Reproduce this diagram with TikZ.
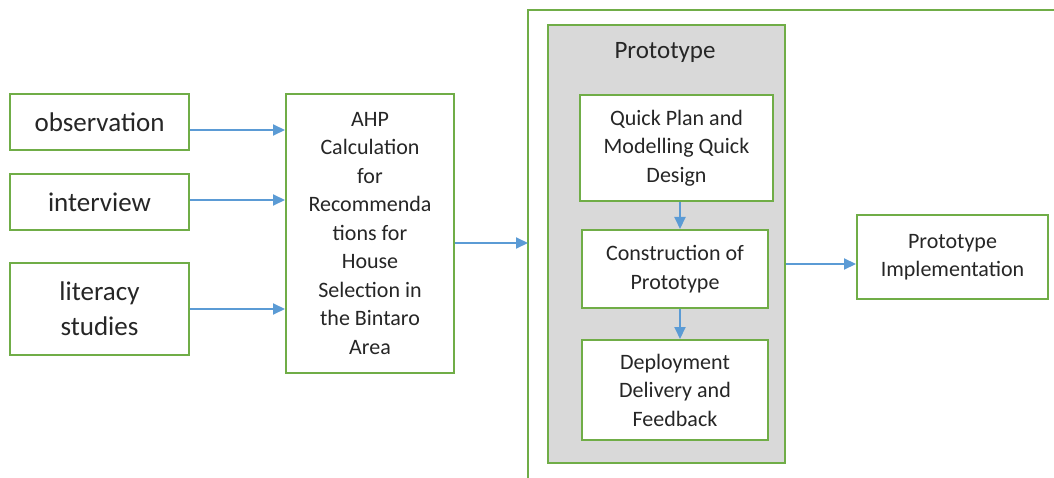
\documentclass[tikz,border=0pt]{standalone}
\usepackage{fontspec}
\setmainfont{Carlito}
\usetikzlibrary{arrows.meta}
\definecolor{boxgreen}{HTML}{70AD47}
\definecolor{flowblue}{HTML}{5B9BD5}
\definecolor{panelgray}{HTML}{D9D9D9}
\definecolor{ink}{HTML}{262626}
\tikzset{
  box/.style={draw=boxgreen, line width=2pt, fill=white, align=center, text=ink,
    inner sep=0pt, font=\fontsize{22}{28.5}\selectfont},
  srcbox/.style={box, font=\fontsize{27}{35}\selectfont},
  panel/.style={draw=boxgreen, line width=2pt, fill=panelgray},
  flow/.style={draw=flowblue, line width=2pt, -{Triangle[length=12pt,width=11pt]}},
  frame/.style={draw=boxgreen, line width=2pt}
}
\begin{document}
\begin{tikzpicture}[x=1pt,y=-1pt]
\useasboundingbox (0,0) rectangle (1054,478);

% open frame around the prototype stage
\coordinate (frameBottom) at (528,478);
\coordinate (frameCorner) at (528,10.5);
\coordinate (frameRight) at (1054,10.5);
\draw[frame] (frameBottom) -- (frameCorner) -- (frameRight);

% data sources
\node[srcbox, minimum width=179pt, minimum height=56pt] (obs) at (99.5,122) {observation};
\node[srcbox, minimum width=179pt, minimum height=56pt] (intv) at (99.5,202) {interview};
\node[srcbox, minimum width=179pt, minimum height=92pt] (lit) at (99.5,309) {literacy\\studies};

% AHP calculation
\node[box, minimum width=168pt, minimum height=279pt] (ahp) at (370,233.5)
  {AHP\\Calculation\\for\\Recommenda\\tions for\\House\\Selection in\\the Bintaro\\Area};

% prototype panel
\node[panel, minimum width=237pt, minimum height=438pt, inner sep=0pt] (proto) at (666.5,244) {};
\node[text=ink, font=\fontsize{25}{30}\selectfont] (protoTitle) at (665,52) {Prototype};
\node[box, minimum width=193pt, minimum height=106pt] (quick) at (676.5,148)
  {Quick Plan and\\Modelling Quick\\Design};
\node[box, minimum width=186pt, minimum height=78pt] (constr) at (675,269)
  {Construction of\\Prototype};
\node[box, minimum width=186pt, minimum height=100pt] (deploy) at (675,390)
  {Deployment\\Delivery and\\Feedback};

% implementation
\node[box, minimum width=191pt, minimum height=84pt] (impl) at (952.5,257)
  {Prototype\\Implementation};

% connectors
\coordinate (yObs) at (0,130);
\coordinate (yIntv) at (0,200);
\coordinate (yLit) at (0,309);
\draw[flow] (obs.east |- yObs) -- (ahp.west |- yObs);
\draw[flow] (intv.east |- yIntv) -- (ahp.west |- yIntv);
\draw[flow] (lit.east |- yLit) -- (ahp.west |- yLit);

\coordinate (frameIn) at (528,243);
\draw[flow] (ahp.east |- frameIn) -- (frameIn);

\coordinate (xInner) at (680,0);
\draw[flow] (quick.south -| xInner) -- (constr.north -| xInner);
\draw[flow] (constr.south -| xInner) -- (deploy.north -| xInner);

\coordinate (yImpl) at (0,264);
\draw[flow] (proto.east |- yImpl) -- (impl.west |- yImpl);
\end{tikzpicture}
\end{document}
